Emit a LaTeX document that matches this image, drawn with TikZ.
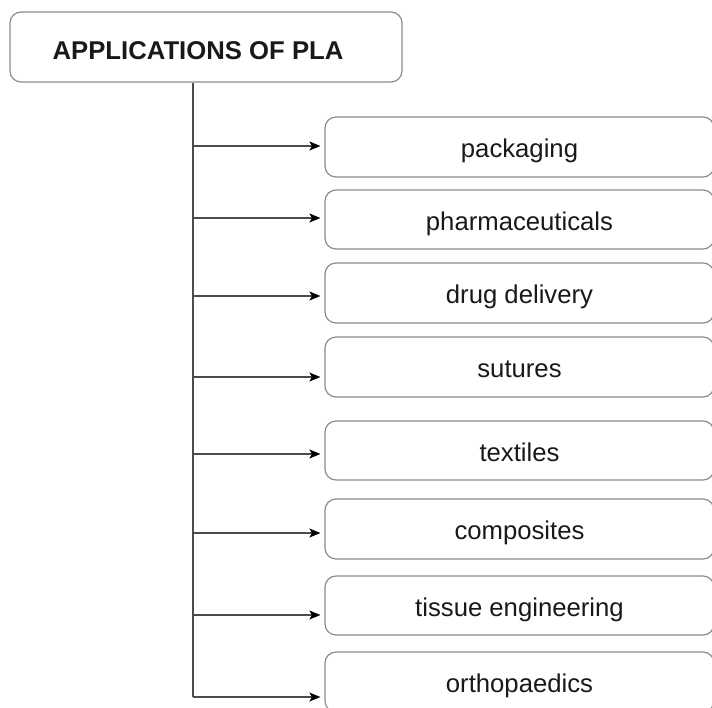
\documentclass[tikz,border=0pt]{standalone}
\usepackage{fontspec}
\setmainfont{Liberation Sans}
\usetikzlibrary{arrows.meta}

\begin{document}
\begin{tikzpicture}[x=1pt,y=-1pt]
\tikzset{
  boxnode/.style={rectangle,rounded corners=11pt,draw=black!45,line width=1.2pt,inner sep=2pt,
    fill=white,text=black!90,text height=23pt,text depth=1.5pt,font=\fontsize{25.7}{30}\selectfont},
  titlenode/.style={boxnode,minimum width=392pt,minimum height=70pt,text height=24pt,text depth=0pt,
    font=\fontsize{25.7}{30}\selectfont\bfseries},
  itemnode/.style={boxnode,minimum width=389pt,minimum height=60pt},
  trunk/.style={draw=black!70,line width=1.3pt},
  branch/.style={trunk,shorten >=4pt,-{Stealth[length=11pt,width=9pt,inset=2.5pt,black]}}
}
\useasboundingbox (0,0) rectangle (712,707);
\node[titlenode] (n_title) at (206,47) {\hspace*{-16pt}APPLICATIONS OF PLA};
\node[itemnode] (n_pack) at (519.5,147) {packaging};
\node[itemnode,minimum height=59pt] (n_pharma) at (519.5,219.5) {pharmaceuticals};
\node[itemnode] (n_drug) at (519.5,293) {drug delivery};
\node[itemnode] (n_sut) at (519.5,367) {sutures};
\node[itemnode,minimum height=59pt] (n_text) at (519.5,450.5) {textiles};
\node[itemnode] (n_comp) at (519.5,529) {composites};
\node[itemnode,minimum height=59pt] (n_tissue) at (519.5,605.5) {tissue engineering};
\node[itemnode] (n_ortho) at (519.5,682) {orthopaedics};
\coordinate (t_1) at (193,146);
\coordinate (t_2) at (193,218);
\coordinate (t_3) at (193,296);
\coordinate (t_4) at (193,377);
\coordinate (t_5) at (193,454);
\coordinate (t_6) at (193,533);
\coordinate (t_7) at (193,615);
\coordinate (t_8) at (193,697);
\draw[trunk] (n_title.south -| t_8) -- (t_8);
\draw[branch] (t_1) -- (t_1 -| n_pack.west);
\draw[branch] (t_2) -- (t_2 -| n_pharma.west);
\draw[branch] (t_3) -- (t_3 -| n_drug.west);
\draw[branch] (t_4) -- (t_4 -| n_sut.west);
\draw[branch] (t_5) -- (t_5 -| n_text.west);
\draw[branch] (t_6) -- (t_6 -| n_comp.west);
\draw[branch] (t_7) -- (t_7 -| n_tissue.west);
\draw[branch] (t_8) -- (t_8 -| n_ortho.west);
\end{tikzpicture}
\end{document}
